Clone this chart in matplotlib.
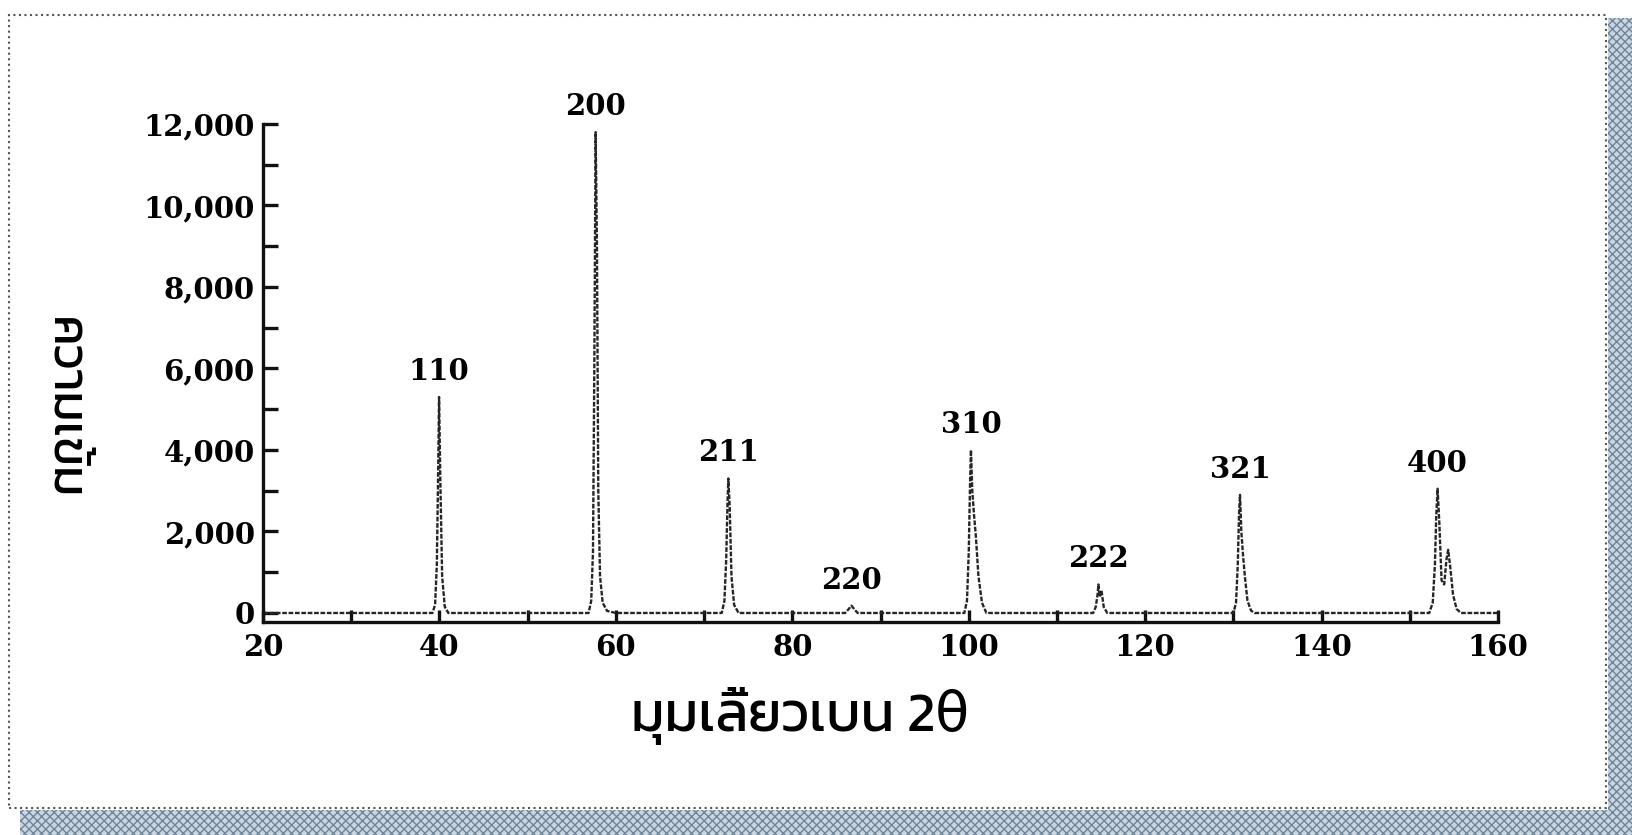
import matplotlib
matplotlib.use("Agg")
import matplotlib.pyplot as plt
from matplotlib.patches import Rectangle

# diffraction trace (2theta in degrees, counts)
two_theta = [20, 30, 39.2, 39.5, 39.7, 39.85, 39.95, 40.1, 40.3, 40.6, 41.0,
             50, 56.9, 57.2, 57.4, 57.55, 57.7, 57.85, 58.0, 58.2, 58.5, 59.0, 60.0,
             72.0, 72.3, 72.5, 72.65, 72.75, 72.9, 73.1, 73.4, 73.9,
             86.0, 86.4, 86.7, 87.0, 87.4,
             99.5, 99.8, 100.0, 100.15, 100.25, 100.4, 100.6, 100.8, 101.1, 101.5, 102.0,
             114.1, 114.4, 114.6, 114.7, 114.85, 115.05, 115.3, 115.7,
             130.0, 130.3, 130.5, 130.65, 130.75, 130.9, 131.1, 131.3, 131.6, 132.0, 132.4,
             152.2, 152.6, 152.85, 153.0, 153.15, 153.35, 153.6, 153.9, 154.15, 154.35, 154.6, 154.9, 155.3, 155.8,
             160]
intensity = [0, 0, 0, 200, 1200, 3500, 5300, 3200, 900, 150, 0,
             0, 0, 300, 1500, 6000, 11800, 9000, 3000, 900, 250, 50, 0,
             0, 300, 1300, 2700, 3300, 2600, 900, 200, 0,
             0, 100, 180, 100, 0,
             0, 300, 1500, 3200, 4000, 3000, 2400, 1900, 900, 250, 0,
             0, 150, 450, 700, 400, 550, 150, 0,
             0, 250, 1200, 2500, 2900, 2000, 1400, 900, 300, 60, 0,
             0, 250, 1200, 2400, 3050, 2200, 800, 700, 1300, 1550, 1100, 450, 100, 0,
             0]

peak_labels = ["110", "200", "211", "220", "310", "222", "321", "400"]
peak_pos = [39.95, 57.7, 72.75, 86.7, 100.25, 114.7, 130.75, 153.15]
peak_top = [5300, 11800, 3300, 180, 4000, 700, 2900, 3050]

thai = ["Kanit", "Anuphan", "DejaVu Sans"]
num_font = "DejaVu Serif"

fig = plt.figure(figsize=(16.32, 8.35), dpi=100)
ax = fig.add_axes([0.1612, 0.2551, 0.7567, 0.5964])

ax.plot(two_theta, intensity, color="#262626", lw=1.7, ls=(0, (2, 0.7)))
ax.set_xlim(20, 160)
ax.set_ylim(-221, 12000)

for sp in ["top", "right"]:
    ax.spines[sp].set_visible(False)
for sp in ["left", "bottom"]:
    ax.spines[sp].set_linewidth(2.4)
    ax.spines[sp].set_color("#111111")

ax.set_xticks(range(20, 161, 20))
ax.set_xticks(range(30, 160, 20), minor=True)
ax.set_yticks(range(0, 12001, 2000))
ax.set_yticks(range(1000, 12000, 2000), minor=True)
ax.set_yticklabels([f"{v:,}" for v in range(0, 12001, 2000)])
ax.tick_params(which="both", direction="in", width=2.4, color="#111111")
ax.tick_params(axis="y", which="both", length=11, pad=6)
ax.tick_params(axis="x", which="both", length=9, pad=8)
for lab in ax.get_xticklabels() + ax.get_yticklabels():
    lab.set_fontfamily(num_font)
    lab.set_fontweight("bold")
    lab.set_fontsize(21)

for name, x, y in zip(peak_labels, peak_pos, peak_top):
    ax.annotate(name, (x, y), xytext=(0, 8), textcoords="offset points",
                ha="center", va="bottom", fontsize=21, fontweight="bold",
                family=num_font)

fig.text(800 / 1632, 1 - 716 / 835, "มุมเลี้ยวเบน 2θ", ha="center", va="center",
         fontsize=40, family=thai)
fig.text(63 / 1632, 1 - 408 / 835, "ความเข้ม", ha="center", va="center",
         rotation=-90, fontsize=36, family=thai)

# scanned page frame and shadow
fig.add_artist(Rectangle((9 / 1632, 1 - 808 / 835), (1606 - 9) / 1632, (808 - 15) / 835,
                         transform=fig.transFigure, fill=False, ec="#555555",
                         lw=1.5, ls=":"))
fig.add_artist(Rectangle((20 / 1632, 0), 1, 25 / 835, transform=fig.transFigure,
                         fc="#c9d5df", ec="#6f8599", hatch="xxxx", lw=0))
fig.add_artist(Rectangle((1608 / 1632, 0), 1, 1 - 18 / 835, transform=fig.transFigure,
                         fc="#c9d5df", ec="#6f8599", hatch="xxxx", lw=0))

fig.savefig("out.png", dpi=100)
